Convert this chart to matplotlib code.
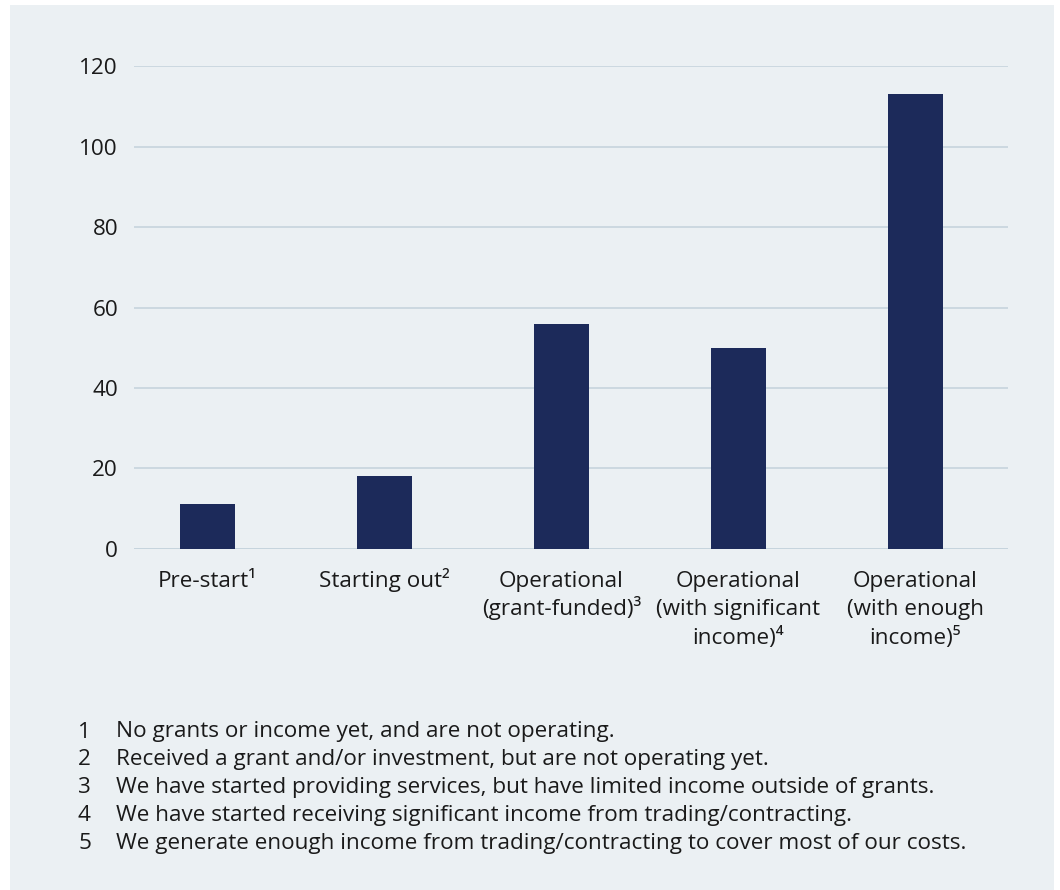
import matplotlib
matplotlib.use("Agg")
import matplotlib.pyplot as plt
from matplotlib.patches import Rectangle

categories = ["Pre-start¹", "Starting out²", "Operational\n(grant-funded)³",
              "Operational\n(with significant\nincome)⁴", "Operational\n(with enough\nincome)⁵"]
values = [11, 18, 56, 50, 113]
yticks = [0, 20, 40, 60, 80, 100, 120]
footnotes = [
    "No grants or income yet, and are not operating.",
    "Received a grant and/or investment, but are not operating yet.",
    "We have started providing services, but have limited income outside of grants.",
    "We have started receiving significant income from trading/contracting.",
    "We generate enough income from trading/contracting to cover most of our costs.",
]

FONT = ["Open Sans", "DejaVu Sans"]
plt.rcParams["font.family"] = FONT
BG = "#ebf0f3"
BAR = "#1c2a5a"
GRID = "#c6d4dd"
TXT = "#1a1a1a"
FS = 16.2

W, H = 1060, 890
fig = plt.figure(figsize=(W / 100, H / 100), dpi=100)
fig.patch.set_facecolor("white")
fig.patches.append(Rectangle((10 / W, 0), 1044 / W, 885 / H, transform=fig.transFigure,
                             facecolor=BG, edgecolor="none", zorder=-10))

# axes: x 134..1008, y 66.3 (120) .. 548.7 (0)
x0, x1 = 134, 1008
y_top, y_bot = 66.3, 548.7
ax = fig.add_axes([x0 / W, 1 - y_bot / H, (x1 - x0) / W, (y_bot - y_top) / H])
ax.set_zorder(5)
ax.set_facecolor("none")
ax.bar(range(len(values)), values, width=0.31, color=BAR, zorder=3)
ax.set_xlim(-0.415, 4.523)
ax.set_ylim(0, 120)
ax.set_yticks(yticks)
ax.set_yticklabels([str(t) for t in yticks], fontsize=FS, color=TXT)
ax.set_xticks(range(len(categories)))
ax.set_xticklabels([""] * len(categories))
ax.tick_params(axis="both", length=0)
ax.tick_params(axis="y", pad=11.5)
ax.grid(axis="y", color=GRID, linewidth=1.2, zorder=1)
ax.axhline(0, color=GRID, linewidth=2, zorder=2)
for s in ax.spines.values():
    s.set_visible(False)

# category labels, each line on its own baseline (px -> pt: *0.72)
for i, lab in enumerate(categories):
    for k, line in enumerate(lab.split("\n")):
        off_px = 38.3 + k * 28.3
        ax.annotate(line, xy=(i, 0), xycoords=("data", "axes fraction"),
                    xytext=(0, -off_px * 0.72), textcoords="offset points",
                    ha="center", va="baseline", fontsize=FS, color=TXT,
                    annotation_clip=False)

# footnotes
y0 = 732
for i, t in enumerate(footnotes):
    y = y0 + i * 27.8
    fig.text(78 / W, 1 - y / H, str(i + 1), fontsize=FS, color=TXT, va="center", ha="left")
    fig.text(116 / W, 1 - y / H, t, fontsize=FS, color=TXT, va="center", ha="left")

fig.savefig("out.png", dpi=100, facecolor="white")
